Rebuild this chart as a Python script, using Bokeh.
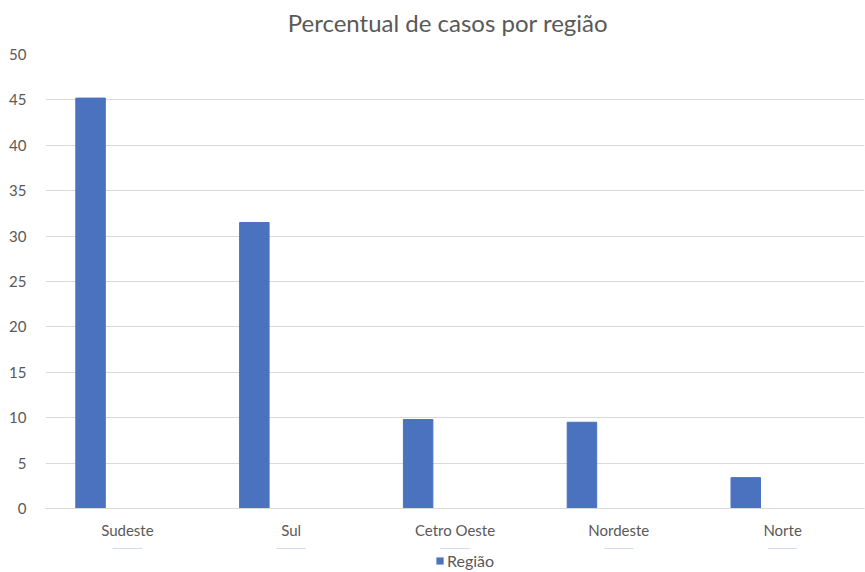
from bokeh.plotting import figure
from bokeh.layouts import column
from bokeh.models import (FactorRange, Range1d, Legend, LegendItem, FixedTicker, Label,
                          ColumnDataSource)
from bokeh.transform import dodge
from bokeh.embed import file_html
from bokeh.resources import INLINE

regioes = ["Sudeste", "Sul", "Cetro Oeste", "Nordeste", "Norte"]
percentual = [45.2, 31.5, 9.8, 9.5, 3.4]
serie = "Região"
titulo = "Percentual de casos por região"
y_ticks = [0, 5, 10, 15, 20, 25, 30, 35, 40, 45, 50]

FONT = "Lato"
GREY = "#595959"
GRID = "#d9d9d9"
BLUE = "#4a72bf"
W = 865

src = ColumnDataSource(dict(regiao=regioes, valor=percentual))


def blank(fig):
    fig.outline_line_color = None
    fig.grid.visible = False
    return fig


# --- title strip ---
head = blank(figure(width=W, height=44, x_range=Range1d(0, W), y_range=Range1d(0, 44),
                    x_axis_location=None, y_axis_location=None,
                    output_backend="svg", toolbar_location=None, min_border=0))
head.add_layout(Label(x=425, y=22, text=titulo, text_align="center", text_baseline="middle",
                      text_font=FONT, text_font_size="24px", text_color=GREY))

# --- main chart ---
p = figure(width=W, height=504, x_range=FactorRange(*regioes), y_range=Range1d(0, 50),
           output_backend="svg", toolbar_location=None,
           min_border_left=45, min_border_right=1, min_border_top=10, min_border_bottom=40)
p.outline_line_color = None

r = p.vbar(x=dodge("regiao", -0.225, range=p.x_range), top="valor", width=0.18, source=src,
           fill_color=BLUE, line_color=BLUE)

p.xgrid.grid_line_color = None
p.ygrid.grid_line_color = GRID
p.ygrid.grid_line_width = 1

p.yaxis.ticker = FixedTicker(ticks=y_ticks)
p.yaxis.axis_line_color = None
p.yaxis.major_tick_line_color = None
p.yaxis.minor_tick_line_color = None
p.yaxis.major_label_text_font = FONT
p.yaxis.major_label_text_font_size = "15px"
p.yaxis.major_label_text_color = GREY
p.yaxis.major_label_standoff = 13

p.xaxis.axis_line_color = GRID
p.xaxis.axis_line_width = 1
p.xaxis.major_tick_line_color = None
p.xaxis.minor_tick_line_color = None
p.xaxis.major_label_text_font = FONT
p.xaxis.major_label_text_font_size = "15px"
p.xaxis.major_label_text_color = GREY
p.xaxis.major_label_standoff = 6

# --- legend strip (series glyph kept out of view; only its legend swatch shows) ---
foot = blank(figure(width=W, height=24, x_range=FactorRange(*regioes), y_range=Range1d(-3, -2),
                    x_axis_location=None, y_axis_location=None,
                    output_backend="svg", toolbar_location=None, min_border=0))
lr = foot.vbar(x="regiao", top="valor", width=0.18, source=src,
               fill_color=BLUE, line_color=None)
legend = Legend(items=[LegendItem(label=serie, renderers=[lr])], location=(390, 2),
                orientation="horizontal", border_line_color=None, background_fill_alpha=0,
                label_text_font=FONT, label_text_font_size="16px", label_text_color=GREY,
                glyph_width=9, glyph_height=9, label_standoff=3, padding=0, margin=0, spacing=0)
foot.add_layout(legend, "center")

layout = column(head, p, foot, spacing=0)
open("out.html", "w").write(file_html(layout, INLINE))
